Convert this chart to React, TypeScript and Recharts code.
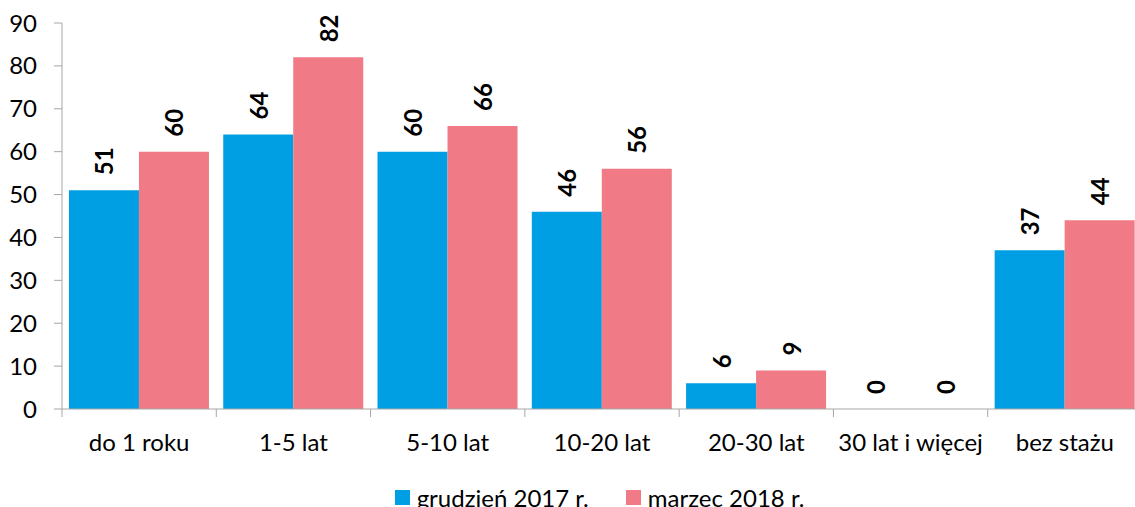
import { BarChart, Bar, XAxis, YAxis, Rectangle } from 'recharts';

const categories = ['do 1 roku', '1-5 lat', '5-10 lat', '10-20 lat', '20-30 lat', '30 lat i więcej', 'bez stażu'];
const dec2017 = [51, 64, 60, 46, 6, 0, 37];
const mar2018 = [60, 82, 66, 56, 9, 0, 44];
const yTicks = [0, 10, 20, 30, 40, 50, 60, 70, 80, 90];

const series = [
  { key: 'dec', name: 'grudzień 2017 r.', color: '#009FE3' },
  { key: 'mar', name: 'marzec 2018 r.', color: '#F07A85' },
];

const data = categories.map((name, i) => ({ name, dec: dec2017[i], mar: mar2018[i] }));

const FONT = 'Lato, Carlito, Calibri, sans-serif';
const AXIS = '#A6A6A6';
const CHART_W = 1142;
const CHART_H = 507;
const Y_W = 62;
const BAND = (CHART_W - Y_W) / categories.length;

const XTick = (props: any) => {
  const { x, y, payload, index } = props;
  const last = index === categories.length - 1;
  return (
    <g>
      <line x1={x - BAND / 2} x2={x - BAND / 2} y1={y} y2={y + 8} stroke={AXIS} />
      {last && <line x1={x + BAND / 2} x2={x + BAND / 2} y1={y} y2={y + 8} stroke={AXIS} />}
      <text x={x} y={y + 32} textAnchor="middle" dominantBaseline="central" fontSize={24} fill="#000" fontFamily={FONT}>
        {payload.value}
      </text>
    </g>
  );
};

const VLabel = (props: any) => {
  const { x, y, width, height, value } = props;
  const cx = x + width / 2;
  // zero bars get a 1px min height, so measure from the bar bottom
  const top = value === 0 ? y + height : y;
  const cy = top - 15;
  return (
    <text
      x={cx}
      y={cy}
      transform={`rotate(-90 ${cx} ${cy})`}
      textAnchor="start"
      dominantBaseline="central"
      fontSize={24}
      fontWeight="bold"
      fill="#000"
      fontFamily={FONT}
    >
      {String(value)}
    </text>
  );
};

// hide the min-size sliver drawn for zero values
const BarShape = (props: any) => {
  if (!props.value) return <g />;
  return <Rectangle {...props} />;
};

export default function App() {
  return (
    <div style={{ position: 'absolute', left: 0, top: 0, width: 1135, height: CHART_H, overflow: 'hidden', background: '#fff' }}>
      <BarChart
        width={CHART_W}
        height={CHART_H}
        data={data}
        margin={{ top: 23, right: 0, left: 0, bottom: 38 }}
        barCategoryGap="4.5%"
        barGap={0}
      >
        <XAxis
          dataKey="name"
          interval={0}
          tickLine={false}
          tickSize={0}
          tickMargin={0}
          height={60}
          stroke={AXIS}
          tick={<XTick />}
        />
        <YAxis
          width={Y_W}
          domain={[0, 90]}
          ticks={yTicks}
          interval={0}
          tickSize={8}
          tickMargin={17}
          stroke={AXIS}
          tick={{ fontSize: 24, fill: '#000', fontFamily: FONT }}
        />
        {series.map((s) => (
          <Bar
            key={s.key}
            dataKey={s.key}
            name={s.name}
            fill={s.color}
            minPointSize={1}
            shape={<BarShape />}
            isAnimationActive={false}
            label={<VLabel />}
          />
        ))}
      </BarChart>
      <div
        style={{
          position: 'absolute',
          left: 0,
          width: 1135,
          top: 480,
          height: 34,
          display: 'flex',
          justifyContent: 'center',
          alignItems: 'center',
          gap: 37,
          fontFamily: FONT,
          fontSize: 24,
          color: '#000',
          paddingLeft: 64,
          boxSizing: 'border-box',
        }}
      >
        {series.map((s) => (
          <div key={s.key} style={{ display: 'flex', alignItems: 'center', gap: 7 }}>
            <span style={{ display: 'inline-block', width: 15, height: 15, background: s.color }} />
            <span>{s.name}</span>
          </div>
        ))}
      </div>
    </div>
  );
}
